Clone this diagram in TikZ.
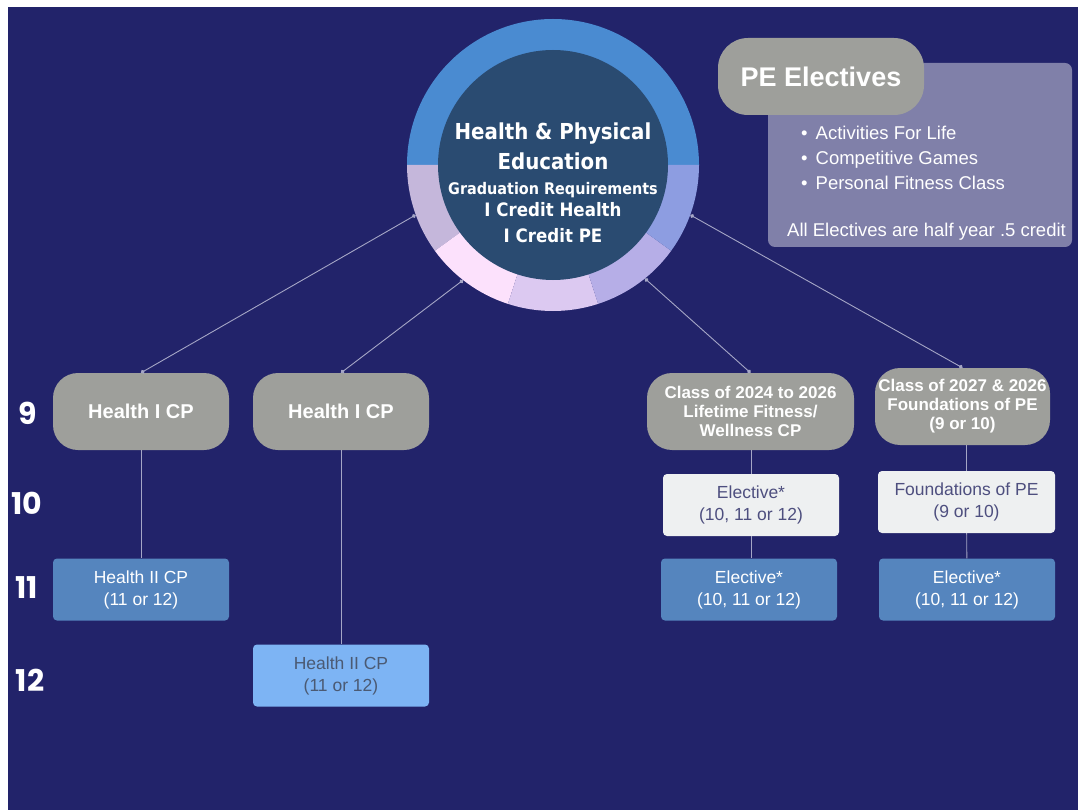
\documentclass[tikz,border=0pt]{standalone}
\usepackage{fontspec}
\setmainfont{Liberation Sans}
\newfontfamily\hubfont[FakeStretch=0.9]{DejaVu Sans}
\newfontfamily\yearfont{Poppins}
\usetikzlibrary{positioning}
\usetikzlibrary{arrows.meta}
\definecolor{navy}{HTML}{22236A}
\definecolor{ringblue}{HTML}{4A8BD1}
\definecolor{segA}{HTML}{C5B7DB}
\definecolor{segB}{HTML}{FCE1FC}
\definecolor{segC}{HTML}{DCC9F1}
\definecolor{segD}{HTML}{B6AEE7}
\definecolor{segE}{HTML}{8D9DE1}
\definecolor{hubdark}{HTML}{2A4B71}
\definecolor{greybox}{HTML}{9E9F9B}
\definecolor{palebox}{HTML}{EEF0F1}
\definecolor{midblue}{HTML}{5585BE}
\definecolor{skyblue}{HTML}{7DB4F4}
\definecolor{panelpurple}{HTML}{8080A9}
\definecolor{linegray}{HTML}{A5A6C6}
\definecolor{paletext}{HTML}{4E4F7F}
\definecolor{skytext}{HTML}{4B5A73}

\begin{document}
\begin{tikzpicture}[
x=1pt,y=-1pt,
graybox/.style={
rectangle,
rounded corners=25pt,
fill=greybox,
text=white,
inner sep=2pt,
align=center,
minimum width=176pt,
minimum height=77pt,
font=\fontsize{17}{19}\selectfont\bfseries},
graybig/.style={graybox, font=\fontsize{20}{22}\selectfont\bfseries},
flatbox/.style={
rectangle,
rounded corners=4pt,
inner sep=2pt,
align=center,
minimum width=176pt,
minimum height=62pt,
font=\fontsize{17.5}{22}\selectfont},
palebox/.style={flatbox, fill=palebox, text=paletext},
bluebox/.style={flatbox, fill=midblue, text=white},
skybox/.style={flatbox, fill=skyblue, text=skytext},
yearlbl/.style={text=white, font=\yearfont\fontsize{30}{32}\selectfont\bfseries},
link/.style={draw=linegray, line width=0.9pt, {Circle[length=4pt]}-{Circle[length=4pt]}},
stem/.style={draw=linegray, line width=0.9pt}
]
\useasboundingbox (0,0) rectangle (1078,810);
\fill[white] (0,0) rectangle (1078,810);
\fill[navy] (8,7) rectangle (1078,810);

% hub with coloured ring
\node[circle, inner sep=0pt, minimum size=292pt] (ring) at (553,165) {};
\foreach \a/\b/\c in {180/360/ringblue, 144/180/segA, 108/144/segB,
                      72/108/segC, 36/72/segD, 0/36/segE}
  \fill[\c] (ring.center) -- ++(\a:146) arc[start angle=\a, end angle=\b, radius=146] -- cycle;
\node[circle, fill=hubdark, inner sep=0pt, minimum size=230pt] (hub) at (ring.center) {};
\node[text=white, align=center, inner sep=0pt,
      font=\hubfont\bfseries\fontsize{22}{26}\selectfont] (hubtxt) at (553,183)
  {\fontsize{22}{26}\selectfont Health \& Physical\\[4pt]
   \fontsize{22}{26}\selectfont Education\\[-1pt]
   \fontsize{16}{26}\selectfont Graduation Requirements\\[-3.5pt]
   \fontsize{18.5}{26}\selectfont I Credit Health\\
   \fontsize{18.5}{26}\selectfont I Credit PE};

% electives panel
\fill[panelpurple, rounded corners=7pt] (768,63) rectangle (1072,247);
\node[rectangle, rounded corners=30pt, fill=greybox, text=white, minimum width=206pt,
      minimum height=77pt, font=\fontsize{27}{30}\selectfont\bfseries] (pe) at (821,76.5) {PE Electives};
\node[anchor=north west, inner sep=0pt, align=left, text=white,
      font=\fontsize{18.5}{25}\selectfont] (elist) at (787,126)
  {\hspace{14pt}\textbullet\hspace{8pt}Activities For Life\\
   \hspace{14pt}\textbullet\hspace{8pt}Competitive Games\\
   \hspace{14pt}\textbullet\hspace{8pt}Personal Fitness Class\\[22pt]
   All Electives are half year .5 credit};

% grade labels
\node[yearlbl] (y9) at (28,413) {9};
\node[yearlbl] (y10) at (27,503) {10};
\node[yearlbl] (y11) at (27,588) {11};
\node[yearlbl] (y12) at (30,680) {12};

% courses
\node[graybig] (g1) at (141,411.5) {Health I CP};
\node[graybig] (g2) at (341,411.5) {Health I CP};
\node[graybox, minimum width=207pt] (g3) at (750.5,411.5) {Class of 2024 to 2026\\Lifetime Fitness/\\Wellness CP};
\node[graybox, minimum width=175pt] (g4) at (962.5,406.5) {Class of 2027 \& 2026\\Foundations of PE\\(9 or 10)};
\node[palebox] (e1) at (751,505) {Elective*\\(10, 11 or 12)};
\node[palebox, minimum width=177pt] (f1) at (966.5,502) {Foundations of PE\\(9 or 10)};
\node[bluebox] (h2a) at (141,589.5) {Health II CP\\(11 or 12)};
\node[bluebox] (e2) at (749,589.5) {Elective*\\(10, 11 or 12)};
\node[bluebox] (e3) at (967,589.5) {Elective*\\(10, 11 or 12)};
\node[skybox] (h2b) at (341,675.5) {Health II CP\\(11 or 12)};

\draw[stem] (g1) -- (h2a);
\draw[stem] (g2) -- (h2b);
\draw[stem] (e1.north |- g3.south) -- (e1);
\draw[stem] (e1) -- (e1.south |- e2.north);
\draw[stem] (f1.north |- g4.south) -- (f1);
\draw[stem] (f1) -- (e3);
\foreach \a/\b in {200/g1, 232/g2, 309/g3, 340/g4}
  \draw[link] (ring.\a) -- (\b.north);
\end{tikzpicture}
\end{document}
